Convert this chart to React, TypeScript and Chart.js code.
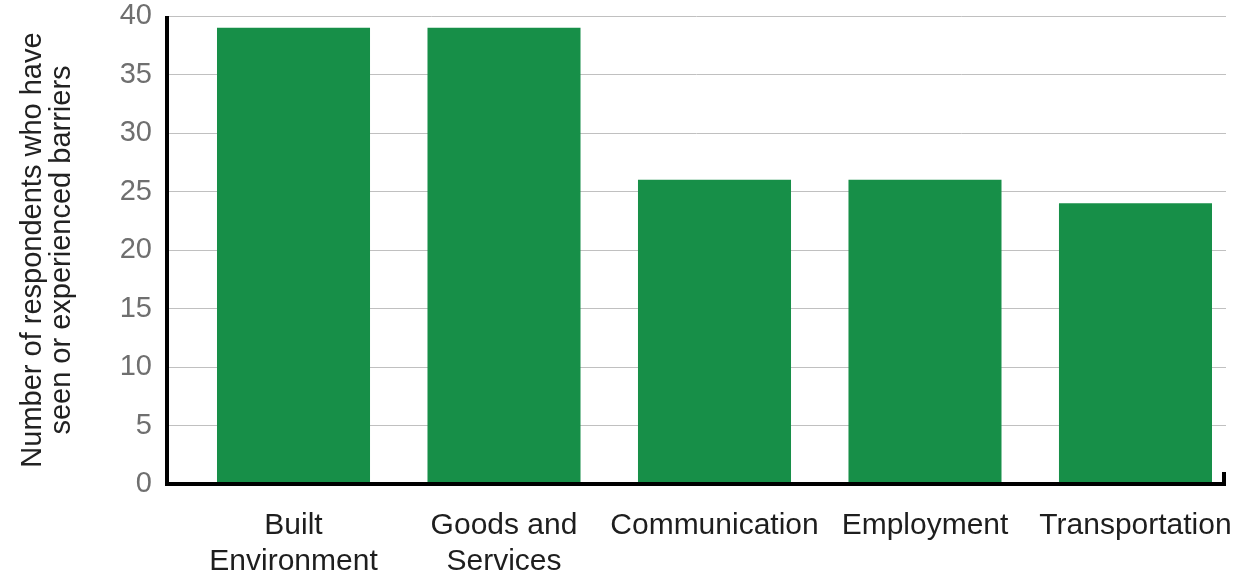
import React, { useEffect, useRef } from "react";
import { Chart, registerables } from "chart.js";

Chart.register(...registerables);

const categories: (string | string[])[] = [
  ["Built", "Environment"],
  ["Goods and", "Services"],
  "Communication",
  "Employment",
  "Transportation",
];
const values: number[] = [39, 39, 26, 26, 24];
const yMin = 0;
const yMax = 40;
const yStep = 5;
const yTitle = ["Number of respondents who have", "seen or experienced barriers"];

const FONT = '"Liberation Sans", Arial, Helvetica, sans-serif';

const axisLines = {
  id: "axisLines",
  afterDatasetsDraw(chart: any) {
    const { ctx, chartArea } = chart;
    const { left, right, top, bottom } = chartArea;
    ctx.save();
    ctx.strokeStyle = "#000";
    ctx.lineWidth = 4;
    ctx.lineCap = "butt";
    ctx.beginPath();
    ctx.moveTo(left, top);
    ctx.lineTo(left, bottom + 2);
    ctx.moveTo(left - 2, bottom);
    ctx.lineTo(right, bottom);
    ctx.moveTo(right - 2, bottom + 2);
    ctx.lineTo(right - 2, bottom - 12);
    ctx.stroke();
    ctx.restore();
  },
};

export default function App() {
  const ref = useRef<HTMLCanvasElement | null>(null);

  useEffect(() => {
    if (!ref.current) return;
    const chart = new Chart(ref.current, {
      type: "bar",
      data: {
        datasets: [
          {
            data: values.map((v, i) => ({ x: i, y: v })),
            backgroundColor: "#178f48",
            borderWidth: 0,
            barPercentage: 0.727,
            categoryPercentage: 1,
          },
        ],
      },
      options: {
        responsive: false,
        animation: false,
        layout: { padding: { left: 0, right: 9, top: 16, bottom: 0 } },
        plugins: {
          legend: { display: false },
          tooltip: { enabled: false },
        },
        scales: {
          x: {
            type: "linear",
            min: -0.601,
            max: 4.43,
            offset: false,
            grid: { display: false, drawTicks: false },
            border: { display: false },
            afterBuildTicks: (axis: any) => {
              axis.ticks = categories.map((_, i) => ({ value: i }));
            },
            afterFit: (scale: any) => {
              scale.height = 92;
              scale.paddingLeft = 0;
              scale.paddingRight = 0;
            },
            ticks: {
              autoSkip: false,
              maxRotation: 0,
              minRotation: 0,
              padding: 24,
              color: "#1e1e1e",
              font: { family: FONT, size: 30, lineHeight: 1.2 },
              callback: (v: any) => categories[v as number] ?? "",
            },
          },
          y: {
            min: yMin,
            max: yMax,
            grid: { color: "#c0c0c0", lineWidth: 1, drawTicks: false },
            border: { display: false },
            afterFit: (scale: any) => {
              scale.width = 167;
              scale.paddingTop = 0;
              scale.paddingBottom = 0;
            },
            ticks: {
              stepSize: yStep,
              padding: 15,
              color: "#6f6f6f",
              font: { family: FONT, size: 29, lineHeight: 1.2 },
            },
            title: {
              display: true,
              text: yTitle,
              color: "#222",
              font: { family: FONT, size: 29, lineHeight: 1.0 },
              padding: { top: 18, bottom: 0 },
            },
          },
        },
      },
      plugins: [axisLines],
    } as any);
    return () => chart.destroy();
  }, []);

  return (
    <div style={{ position: "absolute", left: 0, top: 0, width: 1235, height: 576, background: "#fff" }}>
      <canvas ref={ref} width={1235} height={576} style={{ display: "block" }} />
    </div>
  );
}
